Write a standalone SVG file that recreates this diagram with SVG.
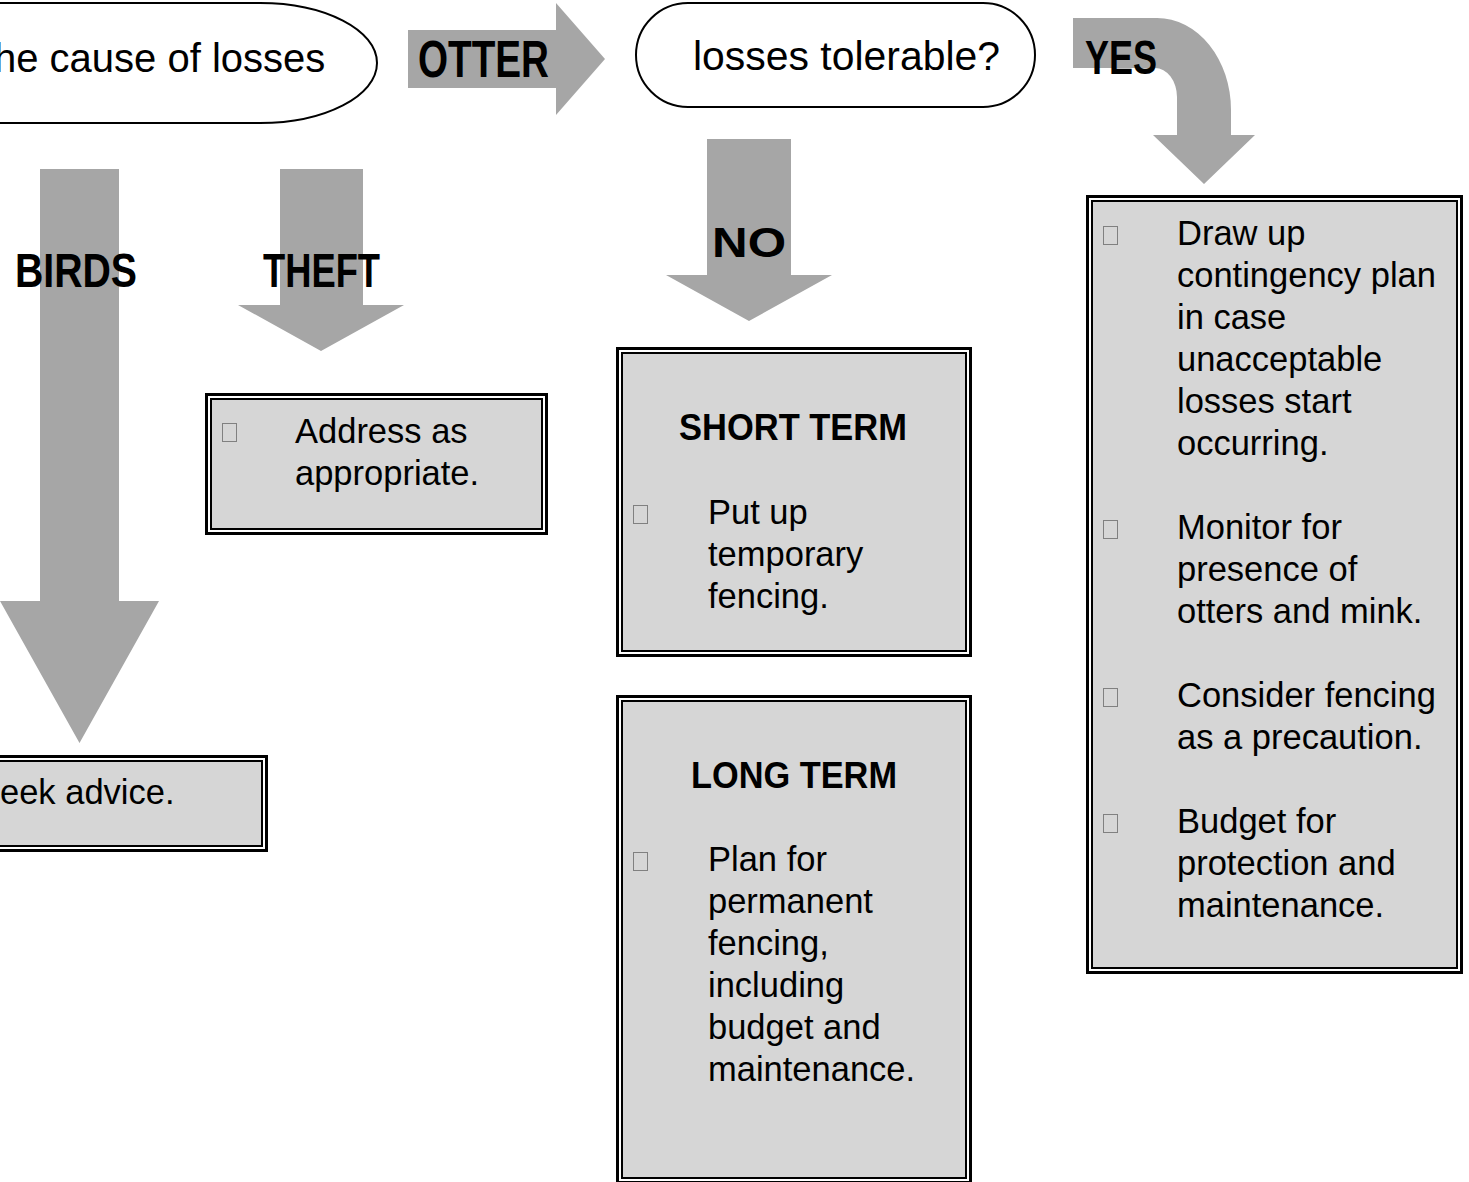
<svg xmlns="http://www.w3.org/2000/svg" width="1469" height="1182" viewBox="0 0 1469 1182">
<style>
.arrow{fill:#a6a6a6;stroke:none}
.lbl{font-family:"Liberation Sans",Arial,sans-serif;font-weight:bold;fill:#000}
.term{stroke:#000;stroke-width:2;fill:#fff}
.big{font-family:"Liberation Sans",Arial,sans-serif;font-size:40px;fill:#000}
.outer{fill:#fff;stroke:#000;stroke-width:3}
.inner{fill:#d6d6d6;stroke:#000;stroke-width:2}
.txt{font-family:"Liberation Sans",Arial,sans-serif;font-size:34.5px;fill:#000}
.hd{font-family:"Liberation Sans",Arial,sans-serif;font-size:37px;font-weight:bold;fill:#000}
.bul{fill:none;stroke:#808080;stroke-width:1}
</style>
<g id="connectors">
  <g id="arrow-otter">
    <path class="arrow" d="M408 30 H556 V3 L605 59 L556 115 V88 H408 Z"/>
    <text class="lbl" x="418" y="77" font-size="52" textLength="131" lengthAdjust="spacingAndGlyphs">OTTER</text>
  </g>
  <g id="arrow-birds">
    <path class="arrow" d="M40 169 H119 V601 H159 L79.5 743 L0 601 H40 Z"/>
    <text class="lbl" x="15" y="287" font-size="48" textLength="122" lengthAdjust="spacingAndGlyphs">BIRDS</text>
  </g>
  <g id="arrow-theft">
    <path class="arrow" d="M280 169 H363 V305 H404 L321 351 L238 305 H280 Z"/>
    <text class="lbl" x="263" y="287" font-size="48" textLength="117" lengthAdjust="spacingAndGlyphs">THEFT</text>
  </g>
  <g id="arrow-no">
    <path class="arrow" d="M707 139 H791 V275 H832 L749 321 L666 275 H707 Z"/>
    <text class="lbl" x="712" y="257" font-size="42" textLength="74" lengthAdjust="spacingAndGlyphs">NO</text>
  </g>
  <g id="arrow-yes">
    <path class="arrow" d="M1073 18 H1157 A74 92 0 0 1 1231 110 V135 H1255 L1204 184 L1153 135 H1177 V97 A22 29 0 0 0 1155 68 H1073 Z"/>
    <text class="lbl" x="1085" y="74" font-size="49" textLength="72" lengthAdjust="spacingAndGlyphs">YES</text>
  </g>
</g>
<g id="node-cause">
  <path class="term" d="M-10 3 H260 C325 3 377 30 377 63 C377 96 325 123 260 123 H-10 Z"/>
  <text class="big" x="-6" y="72">he cause of losses</text>
</g>
<g id="node-tolerable">
  <rect class="term" x="636" y="3" width="399" height="104" rx="52" ry="52"/>
  <text class="big" x="693" y="70" textLength="307" lengthAdjust="spacingAndGlyphs">losses tolerable?</text>
</g>
<g id="node-seek">
  <rect class="outer" x="-48.5" y="756.5" width="315" height="94"/>
  <rect class="inner" x="-44" y="761" width="306" height="85"/>
  <text class="txt" x="0" y="804">eek advice.</text>
</g>
<g id="node-theft">
  <rect class="outer" x="206.5" y="394.5" width="340" height="139"/>
  <rect class="inner" x="211" y="399" width="331" height="130"/>
  <rect class="bul" x="222.5" y="423.5" width="14" height="18"/>
  <text class="txt" x="295" y="443">Address as</text>
  <text class="txt" x="295" y="485">appropriate.</text>
</g>
<g id="node-short">
  <rect class="outer" x="617.5" y="348.5" width="353" height="307"/>
  <rect class="inner" x="622" y="353" width="344" height="298"/>
  <text class="hd" x="793" y="440" text-anchor="middle" textLength="228" lengthAdjust="spacingAndGlyphs">SHORT TERM</text>
  <rect class="bul" x="633.5" y="505.5" width="14" height="18"/>
  <text class="txt" x="708" y="524">Put up</text>
  <text class="txt" x="708" y="566">temporary</text>
  <text class="txt" x="708" y="608">fencing.</text>
</g>
<g id="node-long">
  <rect class="outer" x="617.5" y="696.5" width="353" height="486"/>
  <rect class="inner" x="622" y="701" width="344" height="477"/>
  <text class="hd" x="794" y="788" text-anchor="middle" textLength="206" lengthAdjust="spacingAndGlyphs">LONG TERM</text>
  <rect class="bul" x="633.5" y="852.5" width="14" height="18"/>
  <text class="txt" x="708" y="871">Plan for</text>
  <text class="txt" x="708" y="913">permanent</text>
  <text class="txt" x="708" y="955">fencing,</text>
  <text class="txt" x="708" y="997">including</text>
  <text class="txt" x="708" y="1039">budget and</text>
  <text class="txt" x="708" y="1081">maintenance.</text>
</g>
<g id="node-yes">
  <rect class="outer" x="1087.5" y="196.5" width="374" height="776"/>
  <rect class="inner" x="1092" y="201" width="365" height="767"/>
  <rect class="bul" x="1103.5" y="226.5" width="14" height="18"/>
  <text class="txt" x="1177" y="245">Draw up</text>
  <text class="txt" x="1177" y="287">contingency plan</text>
  <text class="txt" x="1177" y="329">in case</text>
  <text class="txt" x="1177" y="371">unacceptable</text>
  <text class="txt" x="1177" y="413">losses start</text>
  <text class="txt" x="1177" y="455">occurring.</text>
  <rect class="bul" x="1103.5" y="520.5" width="14" height="18"/>
  <text class="txt" x="1177" y="539">Monitor for</text>
  <text class="txt" x="1177" y="581">presence of</text>
  <text class="txt" x="1177" y="623">otters and mink.</text>
  <rect class="bul" x="1103.5" y="688.5" width="14" height="18"/>
  <text class="txt" x="1177" y="707">Consider fencing</text>
  <text class="txt" x="1177" y="749">as a precaution.</text>
  <rect class="bul" x="1103.5" y="814.5" width="14" height="18"/>
  <text class="txt" x="1177" y="833">Budget for</text>
  <text class="txt" x="1177" y="875">protection and</text>
  <text class="txt" x="1177" y="917">maintenance.</text>
</g>
</svg>
